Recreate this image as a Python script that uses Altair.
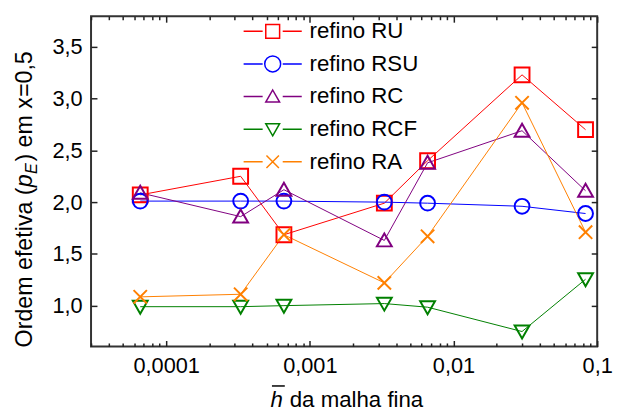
import altair as alt
import pandas as pd

# ---------------- data ----------------
x_vals = [6.6e-5, 3.3e-4, 6.6e-4, 3.3e-3, 6.6e-3, 0.030, 0.083]
series = ["refino RU", "refino RSU", "refino RC", "refino RCF", "refino RA"]
ru = [2.07, 2.25, 1.685, 1.99, 2.40, 3.23, 2.70]
rsu = [2.01, 2.01, 2.01, 2.00, 1.99, 1.96, 1.89]
rc = [2.09, 1.86, 2.12, 1.63, 2.38, 2.69, 2.11]
rcf = [0.99, 0.99, 1.00, 1.02, 0.985, 0.75, 1.255]
ra = [1.085, 1.11, 1.685, 1.22, 1.67, 2.96, 1.71]
colors = ["#ff0000", "#0000ff", "#800080", "#008000", "#ff8000"]

x_major = [1e-4, 1e-3, 1e-2, 1e-1]
x_minor = [k * 10.0 ** e for e in range(-5, -1) for k in range(2, 10)]
x_minor = [v for v in x_minor if 3e-5 <= v <= 0.1]
y_ticks = [1.0, 1.5, 2.0, 2.5, 3.0, 3.5]

# ---------------- table ----------------
rows = []
for s, vals in zip(series, [ru, rsu, rc, rcf, ra]):
    for xv, yv in zip(x_vals, vals):
        rows.append({"h": xv, "p": yv, "serie": s, "leg": s})
df = pd.DataFrame(rows)

W, H = 512, 334
FONT = "Liberation Sans"

marker_paths = [
    "M-1,-1H1V1H-1Z",
    "M-1,0A1,1 0 1,0 1,0A1,1 0 1,0 -1,0Z",
    "M0,-0.95L1,0.8H-1Z",
    "M0,0.95L1,-0.8H-1Z",
    "M-0.9,-0.9L0.9,0.9M-0.9,0.9L0.9,-0.9",
]
legend_line = " M-4.2,0H-1.45M1.45,0H4.2"
legend_paths = [
    "M-1,-1H1V1H-1Z" + legend_line,
    "M-1.15,0A1.15,1.15 0 1,0 1.15,0A1.15,1.15 0 1,0 -1.15,0Z" + legend_line,
    "M0,-0.95L1,0.8H-1Z" + legend_line,
    "M0,0.95L1,-0.8H-1Z" + legend_line,
    "M-0.9,-0.9L0.9,0.9M-0.9,0.9L0.9,-0.9" + legend_line,
]

xscale = alt.Scale(type="log", domain=[3e-5, 0.1], nice=False)
yscale = alt.Scale(domain=[0.606, 3.796], nice=False)
cscale = alt.Scale(domain=series, range=colors)

def tick_axis(orient, values, size, offset):
    return alt.Axis(orient=orient, values=values, tickSize=size, offset=offset,
                    labels=False, domain=False, grid=False, title=None,
                    tickColor="#222222", tickWidth=1.5)

# lines + label axes
lines = alt.Chart(df).mark_line(strokeWidth=1).encode(
    x=alt.X("h:Q", scale=xscale, axis=alt.Axis(
        orient="bottom", values=x_major, ticks=False, domain=False, grid=False,
        title=None, labelExpr="replace(format(datum.value, '~g'), '.', ',')",
        labelFont=FONT, labelFontSize=22, labelColor="black", labelPadding=9,
        labelFlush=False, labelOverlap=False)),
    y=alt.Y("p:Q", scale=yscale, axis=alt.Axis(
        orient="left", values=y_ticks, ticks=False, domain=False, grid=False,
        title=None, labelExpr="replace(format(datum.value, '.1f'), '.', ',')",
        labelFont=FONT, labelFontSize=22, labelColor="black", labelPadding=9)),
    color=alt.Color("serie:N", scale=cscale, legend=None),
)

points = alt.Chart(df).mark_point(filled=False, size=225, opacity=1).encode(
    x=alt.X("h:Q", scale=xscale, axis=tick_axis("top", x_major, 6, -H)),
    y=alt.Y("p:Q", scale=yscale, axis=tick_axis("right", y_ticks, 6, -W)),
    color=alt.Color("serie:N", scale=cscale, legend=None),
    shape=alt.Shape("serie:N", scale=alt.Scale(domain=series, range=marker_paths), legend=None),
    strokeWidth=alt.StrokeWidth("serie:N", scale=alt.Scale(domain=series, range=[2, 2, 1.4, 1.4, 1.4]), legend=None),
)

leg_props = dict(orient="none", legendX=172.5, legendY=4, title=None,
                 labelFont=FONT, labelFontSize=22.5, labelColor="black",
                 symbolSize=196, symbolStrokeWidth=1.5, labelOffset=26,
                 symbolOffset=0, rowPadding=10, padding=0)

legend_layer = alt.Chart(df).transform_filter("false").mark_point(filled=False, opacity=1).encode(
    x=alt.X("h:Q", scale=xscale, axis=tick_axis("bottom", x_major, 6, -H)),
    y=alt.Y("p:Q", scale=yscale, axis=tick_axis("left", y_ticks, 6, -W)),
    color=alt.Color("leg:N", scale=alt.Scale(domain=series, range=colors), legend=alt.Legend(**leg_props)),
    shape=alt.Shape("leg:N", scale=alt.Scale(domain=series, range=legend_paths), legend=alt.Legend(**leg_props)),
)

minor_top = alt.Chart(df).transform_filter("false").mark_point().encode(
    x=alt.X("h:Q", scale=xscale, axis=tick_axis("bottom", x_minor, 3.5, -H)),
    y=alt.Y("p:Q", scale=yscale, axis=None),
)
minor_bottom = alt.Chart(df).transform_filter("false").mark_point().encode(
    x=alt.X("h:Q", scale=xscale, axis=tick_axis("top", x_minor, 3.5, -H)),
    y=alt.Y("p:Q", scale=yscale, axis=None),
)

one = pd.DataFrame({"a": [0]})

def txt(text, x, y, size, style="normal", angle=0):
    return alt.Chart(one).mark_text(
        text=text, font=FONT, fontSize=size, fontStyle=style, angle=angle,
        align="left", baseline="alphabetic", color="black"
    ).encode(x=alt.value(x), y=alt.value(y))

# x title: h-bar da malha fina
xt_h = txt("h", 181.5, 395.5, 22.5, "italic")
xt_rest = txt("da malha fina", 201, 395.5, 22.5)
xt_bar = alt.Chart(one).mark_rule(color="black", strokeWidth=1.5).encode(
    x=alt.value(183), x2=alt.value(196), y=alt.value(374))

# y title: Ordem efetiva (p_E) em x=0,5
yt1 = txt("Ordem efetiva (", -59.5, 335, 23.5, angle=270)
yt2 = txt("p", -59.5, 173, 23.5, "italic", angle=270)
yt3 = txt("E", -55, 159.5, 16.5, "italic", angle=270)
yt4 = txt(") em x=0,5", -59.5, 147, 23.5, angle=270)

chart = alt.layer(
    lines, points, legend_layer, minor_top, minor_bottom,
    xt_h, xt_rest, xt_bar, yt1, yt2, yt3, yt4,
).resolve_scale(
    color="independent", shape="independent"
).resolve_axis(
    x="independent", y="independent"
).properties(
    width=W, height=H,
    autosize=alt.AutoSizeParams(type="none"),
    padding={"left": 84, "top": 6, "right": 16, "bottom": 65},
).configure_view(
    stroke="#333333", strokeWidth=2
)

chart.save("out.html", embed_options={"renderer": "svg", "actions": False})
